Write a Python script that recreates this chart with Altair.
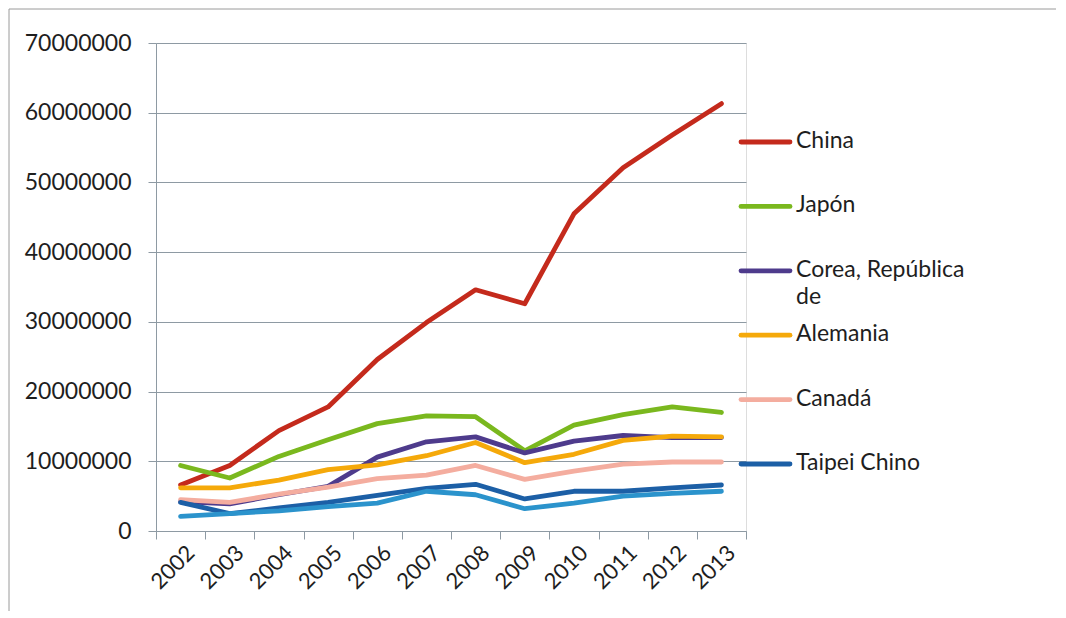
import altair as alt
import pandas as pd

years = [str(y) for y in range(2002, 2014)]
series_names = ["China", "Japón", "Corea, República de", "Alemania", "Canadá", "Taipei Chino", "Otro"]
series_colors = ["#c42a1c", "#7ab81e", "#4e3b8c", "#f5a90a", "#f4ad9f", "#1c5fa6", "#2b93cc"]
legend_labels = ["China", "Japón", "Corea, República\nde", "Alemania", "Canadá", "Taipei Chino"]

china = [6.6e6, 9.4e6, 14.4e6, 17.8e6, 24.6e6, 29.9e6, 34.6e6, 32.6e6, 45.5e6, 52.1e6, 56.8e6, 61.3e6]
japon = [9.4e6, 7.6e6, 10.7e6, 13.1e6, 15.4e6, 16.5e6, 16.4e6, 11.5e6, 15.2e6, 16.7e6, 17.8e6, 17.0e6]
corea = [4.2e6, 3.9e6, 5.2e6, 6.4e6, 10.6e6, 12.8e6, 13.5e6, 11.2e6, 12.9e6, 13.7e6, 13.4e6, 13.4e6]
alemania = [6.2e6, 6.2e6, 7.3e6, 8.8e6, 9.5e6, 10.8e6, 12.7e6, 9.8e6, 11.0e6, 13.0e6, 13.6e6, 13.5e6]
canada = [4.5e6, 4.1e6, 5.3e6, 6.3e6, 7.5e6, 8.0e6, 9.4e6, 7.4e6, 8.6e6, 9.6e6, 9.9e6, 9.9e6]
taipei = [4.1e6, 2.5e6, 3.3e6, 4.1e6, 5.1e6, 6.1e6, 6.7e6, 4.6e6, 5.7e6, 5.7e6, 6.2e6, 6.6e6]
otro = [2.1e6, 2.5e6, 2.9e6, 3.5e6, 4.0e6, 5.7e6, 5.2e6, 3.2e6, 4.0e6, 5.0e6, 5.4e6, 5.7e6]

y_ticks = [0, 10000000, 20000000, 30000000, 40000000, 50000000, 60000000, 70000000]

all_values = [china, japon, corea, alemania, canada, taipei, otro]
rows = []
for name, vals in zip(series_names, all_values):
    for yr, v in zip(years, vals):
        rows.append({"Año": yr, "Valor": v, "País": name})
df = pd.DataFrame(rows)

legend_df = pd.DataFrame({
    "País": series_names[:6],
    "Etiqueta": legend_labels,
    "pos": list(range(6)),
})

FONT = "Lato"
TXT = "#1e1e1e"
GRID = "#8e9aa3"
W, H = 590, 488

color_enc = alt.Color(
    "País:N",
    scale=alt.Scale(domain=series_names, range=series_colors),
    legend=None,
)

lines = alt.Chart(df).mark_line(strokeWidth=4.8, strokeCap="round", strokeJoin="round").encode(
    x=alt.X(
        "Año:O",
        sort=years,
        bandPosition=0.5,
        scale=alt.Scale(type="band", paddingInner=0, paddingOuter=0),
        axis=alt.Axis(
            title=None,
            tickBand="extent",
            labelAngle=-45,
            labelAlign="right",
            labelBaseline="middle",
            labelPadding=10,
            labelOffset=10,
            labelFont=FONT,
            labelFontSize=22,
            labelColor=TXT,
            tickSize=8,
            tickColor=GRID,
            domainColor=GRID,
            grid=False,
        ),
    ),
    y=alt.Y(
        "Valor:Q",
        scale=alt.Scale(domain=[0, 70000000], nice=False),
        axis=alt.Axis(
            title=None,
            values=y_ticks,
            format="d",
            labelFont=FONT,
            labelFontSize=23,
            labelColor=TXT,
            labelPadding=17,
            tickSize=8,
            tickColor=GRID,
            domainColor=GRID,
            gridColor=GRID,
            gridWidth=1.2,
        ),
    ),
    color=color_enc,
    order=alt.Order("País:N", sort="ascending"),
)

leg_y = alt.Y("pos:Q", scale=alt.Scale(domain=[0, 5], range=[99, 421]), axis=None)

legend_sym = alt.Chart(legend_df).mark_rule(strokeWidth=4.8, strokeCap="round").encode(
    x=alt.value(585), x2=alt.value(634), y=leg_y, color=color_enc
)
legend_txt = alt.Chart(legend_df).mark_text(
    align="left", baseline="top", dy=-12, lineBreak="\n", lineHeight=27,
    font=FONT, fontSize=23, color=TXT,
).encode(x=alt.value(640), y=leg_y, text="Etiqueta:N")

frame_df = pd.DataFrame({"k": [0]})
left_border = alt.Chart(frame_df).mark_rule(color="#9a9a9a", strokeWidth=1).encode(
    x=alt.value(-147), y=alt.value(-34), y2=alt.value(568)
)
top_border = alt.Chart(frame_df).mark_rule(color="#9a9a9a", strokeWidth=1).encode(
    x=alt.value(-147), x2=alt.value(900), y=alt.value(-34)
)

chart = alt.layer(lines, legend_sym, legend_txt, left_border, top_border).resolve_scale(
    y="independent"
).properties(
    width=W, height=H, padding=0
).configure_view(stroke=None).configure(background="white")

chart.save("out.html", embed_options={"renderer": "svg", "actions": False})
